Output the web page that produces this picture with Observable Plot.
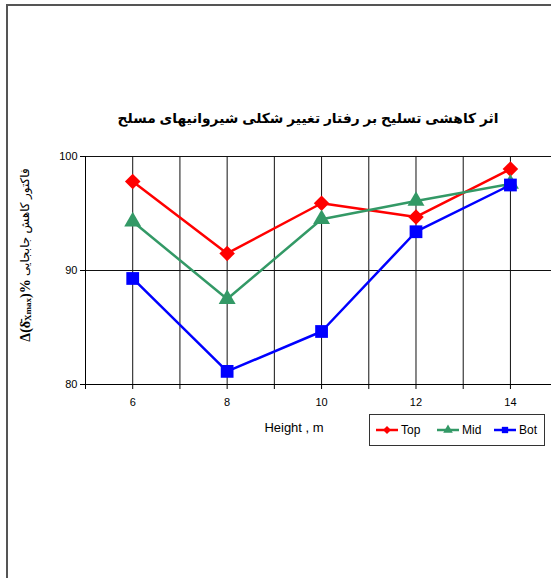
<!DOCTYPE html>
<html><head><meta charset="utf-8">
<script src="https://cdn.jsdelivr.net/npm/d3@7"></script>
<script src="https://cdn.jsdelivr.net/npm/@observablehq/plot@0.6"></script>
<style>
body{margin:0;background:#fff;}
#wrap{position:relative;width:551px;height:578px;overflow:hidden;font-family:Arial,"Liberation Sans",sans-serif;}
#frame{position:absolute;left:6px;top:4px;width:700px;height:700px;border-top:2px solid #555;border-left:2px solid #555;pointer-events:none;}
#wrap svg{position:absolute;left:0;top:0;}
</style></head><body><div id="wrap"><div id="frame"></div></div>
<script>
const heights = [6, 8, 10, 12, 14];
const topVals = [97.8, 91.5, 95.9, 94.7, 98.9];
const midVals = [94.3, 87.5, 94.5, 96.1, 97.6];
const botVals = [89.3, 81.15, 84.65, 93.4, 97.5];
const seriesNames = ["Top", "Mid", "Bot"];
const seriesColors = ["#FF0000", "#339966", "#0000FF"];
const seriesSymbols = ["diamond2", "triangle", "square"];
const xTicks = [6, 8, 10, 12, 14];
const xGrid = [5, 6, 7, 8, 9, 10, 11, 12, 13, 14];
const yTicks = [80, 90, 100];
const titleText = "اثر کاهشی تسلیح بر رفتار تغییر شکلی شیروانیهای مسلح";
const xLabelText = "Height , m";
const yLabelFa = "فاکتور کاهش جابجایی";

const data = [];
[topVals, midVals, botVals].forEach((vals, i) =>
  vals.forEach((v, j) => data.push({series: seriesNames[i], h: heights[j], v})));

const symR = {Top: 7, Mid: 6.3, Bot: 7.2};

const marks = [
  Plot.ruleX(xGrid.slice(1), {stroke: "#111", strokeWidth: 1}),
  Plot.ruleY([90, 100], {stroke: "#111", strokeWidth: 1}),
  Plot.ruleY([80], {stroke: "#000"}),
  Plot.ruleX([5], {stroke: "#000"}),
  Plot.axisX({ticks: xGrid, tickFormat: d => xTicks.includes(d) ? String(d) : "", tickSize: 5, tickPadding: 9, label: null, fontSize: 11}),
  Plot.axisY({ticks: yTicks, tickSize: 5, tickPadding: 3, label: null, fontSize: 11})
];
seriesNames.forEach((s, i) => {
  const d = data.filter(e => e.series === s);
  marks.push(Plot.line(d, {x: "h", y: "v", stroke: seriesColors[i], strokeWidth: 2.5}));
  marks.push(Plot.dot(d, {x: "h", y: "v", symbol: () => seriesSymbols[i], fill: seriesColors[i], stroke: "none", r: symR[s]}));
});

const plot = Plot.plot({
  width: 551, height: 578,
  marginLeft: 85, marginRight: 0, marginTop: 156, marginBottom: 194,
  x: {domain: [5, 14.87]},
  y: {domain: [80, 100]},
  symbol: {domain: seriesSymbols, range: seriesSymbols},
  style: {fontFamily: "Arial, 'Liberation Sans', sans-serif", fontSize: "11px", background: "transparent", color: "#000"},
  marks
});
document.getElementById("wrap").insertBefore(plot, document.getElementById("frame"));

const svg = d3.select(plot);
// title
svg.append("text").attr("x", 308).attr("y", 118).attr("text-anchor", "middle").attr("dominant-baseline", "central")
  .attr("font-weight", "bold").attr("font-size", 13.8).attr("font-family", "Arial, 'DejaVu Sans', sans-serif")
  .attr("direction", "rtl").text(titleText);
// x label
svg.append("text").attr("x", 294).attr("y", 427).attr("text-anchor", "middle").attr("dominant-baseline", "central")
  .attr("font-size", 13).attr("font-family", "Arial, 'Liberation Sans', sans-serif").text(xLabelText);
// y label
const yl = svg.append("text").attr("transform", "translate(25,255) rotate(-90)").attr("text-anchor", "middle")
  .attr("dominant-baseline", "central");
yl.append("tspan").attr("font-family", "'Liberation Serif', serif").attr("font-weight", "bold").attr("font-size", 14).text("Δ(δ\u0304");
yl.append("tspan").attr("font-family", "'Liberation Serif', serif").attr("font-weight", "bold").attr("font-size", 9).attr("dy", 3).text("Xmax");
yl.append("tspan").attr("font-family", "'Liberation Serif', serif").attr("font-weight", "bold").attr("font-size", 14).attr("dy", -3).text(")%");
yl.append("tspan").attr("font-family", "Arial, 'DejaVu Sans', sans-serif").attr("font-size", 12).text(" " + yLabelFa);

// legend
const lg = svg.append("g");
lg.append("rect").attr("x", 369.5).attr("y", 414.5).attr("width", 175).attr("height", 31).attr("fill", "#fff").attr("stroke", "#333");
const lx = [376, 437, 494];
seriesNames.forEach((s, i) => {
  const cx = lx[i];
  lg.append("line").attr("x1", cx).attr("x2", cx + 22).attr("y1", 430).attr("y2", 430).attr("stroke", seriesColors[i]).attr("stroke-width", 2.5);
  const typ = [d3.symbolDiamond2, d3.symbolTriangle, d3.symbolSquare][i];
  lg.append("path").attr("d", d3.symbol(typ, 40)()).attr("transform", `translate(${cx + 11},430)`).attr("fill", seriesColors[i]);
  lg.append("text").attr("x", cx + 25).attr("y", 430).attr("text-anchor", "start").attr("dominant-baseline", "central").attr("font-size", 12)
    .attr("font-family", "Arial, 'Liberation Sans', sans-serif").text(s);
});
</script></body></html>
